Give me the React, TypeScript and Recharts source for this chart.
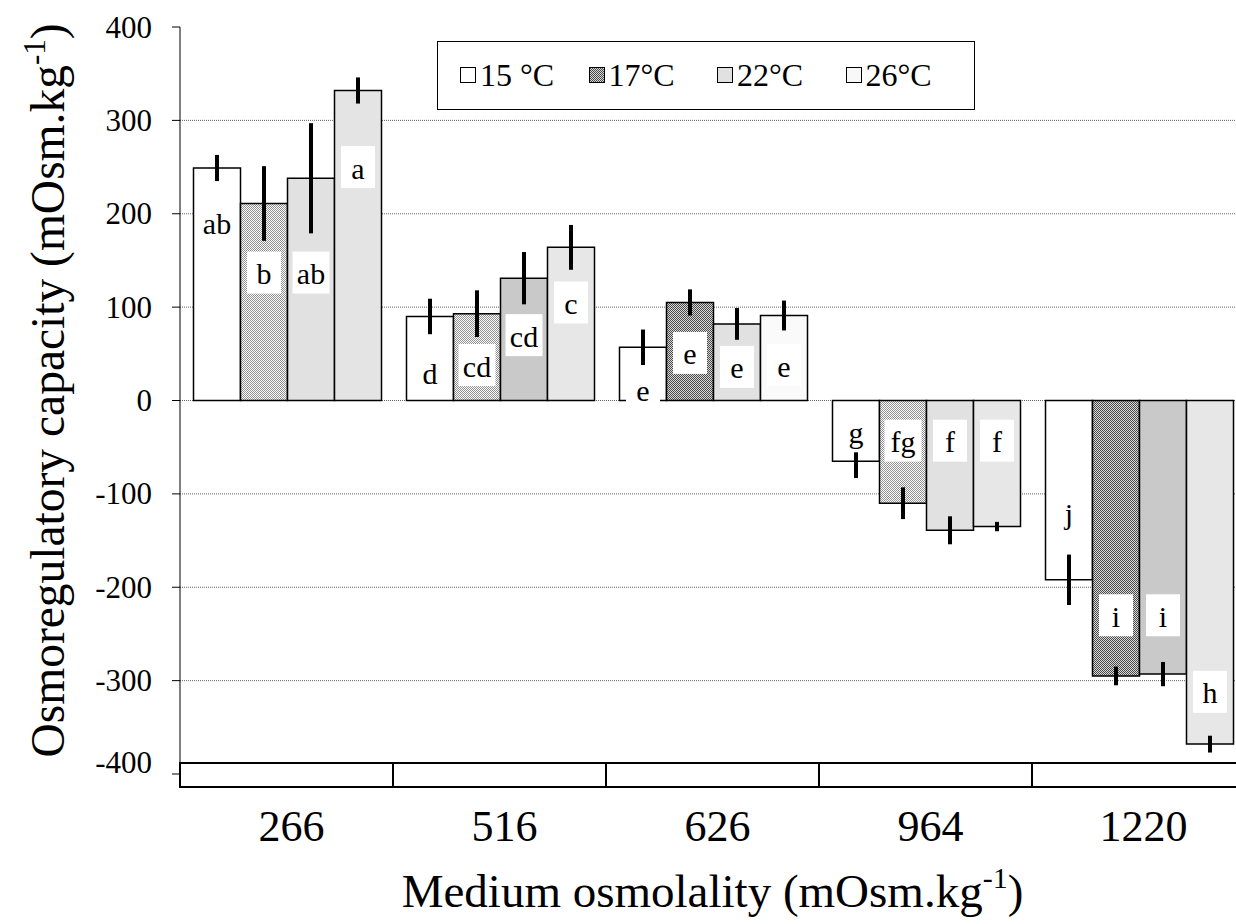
import React from 'react';
import { Bar, BarChart, CartesianGrid, Cell, ErrorBar, LabelList, Legend, XAxis, YAxis } from 'recharts';

// medium osmolality groups (x categories)
const groups = ['266', '516', '626', '964', '1220'];
const temps = ['15 °C', '17°C', '22°C', '26°C'];
const yTicks = [-400, -300, -200, -100, 0, 100, 200, 300, 400];
const gridValues = [-300, -200, -100, 0, 100, 200, 300];

// mean osmoregulatory capacity per temperature
const mean15 = [249, 90, 57, -65, -192];
const mean17 = [211, 93, 105, -110, -295];
const mean22 = [238, 131, 82, -139, -293];
const mean26 = [332, 164, 91, -135, -368];

// half-length of the error bars
const err15 = [14, 19, 19, 18, 27];
const err17 = [40, 25, 14, 17, 10];
const err22 = [59, 28, 17, 15, 13];
const err26 = [14, 24, 16, 5, 9];

// significance letters
const letters15 = ['ab', 'd', 'e', 'g', 'j'];
const letters17 = ['b', 'cd', 'e', 'fg', 'i'];
const letters22 = ['ab', 'cd', 'e', 'f', 'i'];
const letters26 = ['a', 'c', 'e', 'f', 'h'];

// where each letter sits, in axis units
const letterAt15 = [191, 30, 12, -33, -120];
const letterAt17 = [137, 38, 51, -43, -230];
const letterAt22 = [137, 70, 36, -43, -230];
const letterAt26 = [250, 105, 38, -43, -312];

const FONT = "'Liberation Serif', Tinos, 'Times New Roman', Times, 'DejaVu Serif', serif";

// Excel-ish fills, they change a bit from group to group
const fills15 = ['#ffffff', '#ffffff', '#ffffff', '#ffffff', '#ffffff'];
const fills17 = ['url(#chkLight)', 'url(#chkLight)', 'url(#chkDark)', 'url(#chkLight)', 'url(#chkDark)'];
const fills22 = ['#e1e1e1', '#c9c9c9', '#e1e1e1', '#e1e1e1', '#c9c9c9'];
const fills26 = ['#e4e4e4', '#e7e7e7', '#fafafa', '#e7e7e7', '#e7e7e7'];

const CHART_W = 1250;
const CHART_H = 924;
const MARGIN = { top: 27, right: 5, left: 0, bottom: 0 };
const Y_W = 180;
const X_H = 150;
const BAND = (CHART_W - MARGIN.left - MARGIN.right - Y_W) / groups.length;

const data = groups.map((g, i) => ({
  group: g,
  m15: mean15[i],
  m17: mean17[i],
  m22: mean22[i],
  m26: mean26[i],
  e15: err15[i],
  e17: err17[i],
  e22: err22[i],
  e26: err26[i],
}));

// the letter box is placed from the bar's own geometry (pixels per unit from its height)
function letterContent(means: number[], letters: string[], at: number[]) {
  return (p: any) => {
    const i = p.index;
    const v = means[i];
    if (!v) return null;
    const y = Number(p.y);
    const h = Number(p.height);
    const top = Math.min(y, y + h);
    const bottom = Math.max(y, y + h);
    const ppu = (bottom - top) / Math.abs(v);
    const zero = v >= 0 ? bottom : top;
    const cy = zero - at[i] * ppu;
    const cx = Number(p.x) + Number(p.width) / 2;
    const w = letters[i].length > 1 ? 37 : 34;
    return (
      <g>
        <rect x={cx - w / 2} y={cy - 21} width={w} height={42} fill="#fff" />
        <text x={cx} y={cy + 1} textAnchor="middle" dominantBaseline="central" fontSize={30} fontFamily={FONT} fill="#000">
          {letters[i]}
        </text>
      </g>
    );
  };
}

const yTick = (p: any) => {
  const v = p.payload.value;
  return (
    <text x={p.x} y={p.y + (v === -400 ? -12 : 0)} textAnchor="end" dominantBaseline="central" fontSize={31} fontFamily={FONT} fill="#000">
      {v}
    </text>
  );
};

const xTick = (p: any) => (
  <g>
    <rect x={p.x - BAND / 2} y={p.y - 11} width={BAND} height={24} fill="#fff" stroke="#000" strokeWidth={2} />
    <text x={p.x + 5} y={p.y + 52} textAnchor="middle" dominantBaseline="central" fontSize={44} fontFamily={FONT} fill="#000">
      {p.payload.value}
    </text>
  </g>
);

const xTitle = (p: any) => {
  const vb = p.viewBox;
  return (
    <text x={vb.x + vb.width / 2} y={vb.y + 133} textAnchor="middle" fontSize={47} fontFamily={FONT} fill="#000">
      Medium osmolality (mOsm.kg<tspan dy={-19} fontSize={30}>-1</tspan>
      <tspan dy={19}>)</tspan>
    </text>
  );
};

const yTitle = (p: any) => {
  const vb = p.viewBox;
  const cx = 64;
  const cy = vb.y + vb.height / 2 - 10;
  return (
    <text x={cx} y={cy} transform={`rotate(-90, ${cx}, ${cy})`} textAnchor="middle" fontSize={47.5} fontFamily={FONT} fill="#000">
      Osmoregulatory capacity (mOsm.kg<tspan dy={-19} fontSize={31}>-1</tspan>
      <tspan dy={19}>)</tspan>
    </text>
  );
};

const legendSwatch = ['#ffffff', 'url(#chkDark)', '#e1e1e1', '#f8f8f8'];

const LegendBox = () => (
  <div
    style={{
      width: 538,
      height: 69,
      border: '1px solid #000',
      background: '#fff',
      display: 'flex',
      alignItems: 'center',
      paddingLeft: 22,
      boxSizing: 'border-box',
      fontFamily: FONT,
      fontSize: 32,
      color: '#000',
    }}
  >
    {temps.map((t, i) => (
      <div key={t} style={{ width: 136, display: 'flex', alignItems: 'center' }}>
        <svg width={17} height={17} style={{ marginRight: 3 }}>
          <rect x={0.5} y={0.5} width={15} height={15} fill={legendSwatch[i]} stroke="#000" strokeWidth={1} />
        </svg>
        <span>{t}</span>
      </div>
    ))}
  </div>
);

export default function App() {
  const series = [
    { key: 'm15', err: 'e15', name: temps[0], fills: fills15, c: letterContent(mean15, letters15, letterAt15) },
    { key: 'm17', err: 'e17', name: temps[1], fills: fills17, c: letterContent(mean17, letters17, letterAt17) },
    { key: 'm22', err: 'e22', name: temps[2], fills: fills22, c: letterContent(mean22, letters22, letterAt22) },
    { key: 'm26', err: 'e26', name: temps[3], fills: fills26, c: letterContent(mean26, letters26, letterAt26) },
  ];

  return (
    <div style={{ position: 'absolute', left: 0, top: 0, width: 1236, height: 924, overflow: 'hidden', background: '#fff', fontFamily: FONT }}>
      <BarChart
        width={CHART_W}
        height={CHART_H}
        data={data}
        margin={MARGIN}
        barCategoryGap={13.5}
        barGap={0}
      >
        <defs>
          <pattern id="chkLight" width="2" height="2" patternUnits="userSpaceOnUse">
            <rect width="2" height="2" fill="#ffffff" />
            <rect width="1" height="1" fill="#8f8f8f" />
            <rect x="1" y="1" width="1" height="1" fill="#8f8f8f" />
          </pattern>
          <pattern id="chkDark" width="2" height="2" patternUnits="userSpaceOnUse">
            <rect width="2" height="2" fill="#d8d8d8" />
            <rect width="1" height="1" fill="#4a4a4a" />
            <rect x="1" y="1" width="1" height="1" fill="#4a4a4a" />
          </pattern>
        </defs>
        <CartesianGrid vertical={false} horizontalValues={gridValues} stroke="#666" strokeDasharray="1 1" />
        <XAxis
          dataKey="group"
          height={X_H}
          axisLine={false}
          tickLine={false}
          tickSize={0}
          tickMargin={0}
          interval={0}
          tick={xTick}
          label={{ content: xTitle }}
        />
        <YAxis
          width={Y_W}
          domain={[-400, 400]}
          ticks={yTicks}
          interval={0}
          axisLine={{ stroke: '#000', strokeWidth: 1 }}
          tickLine={{ stroke: '#000' }}
          tickSize={8}
          tickMargin={20}
          tick={yTick}
          label={{ content: yTitle }}
        />
        <Legend
          layout="horizontal"
          verticalAlign="middle"
          align="center"
          content={<LegendBox />}
          wrapperStyle={{ position: 'absolute', left: 437, top: 41, width: 538, height: 69 }}
        />
        {series.map((s) => (
          <Bar key={s.key} dataKey={s.key} name={s.name} fill={s.fills[0]} stroke="#000" strokeWidth={1.5} isAnimationActive={false}>
            {data.map((d, i) => (
              <Cell key={d.group} fill={s.fills[i]} />
            ))}
            <ErrorBar dataKey={s.err} width={0} strokeWidth={4} stroke="#000" direction="y" />
            <LabelList dataKey={s.key} content={s.c} />
          </Bar>
        ))}
      </BarChart>
    </div>
  );
}
